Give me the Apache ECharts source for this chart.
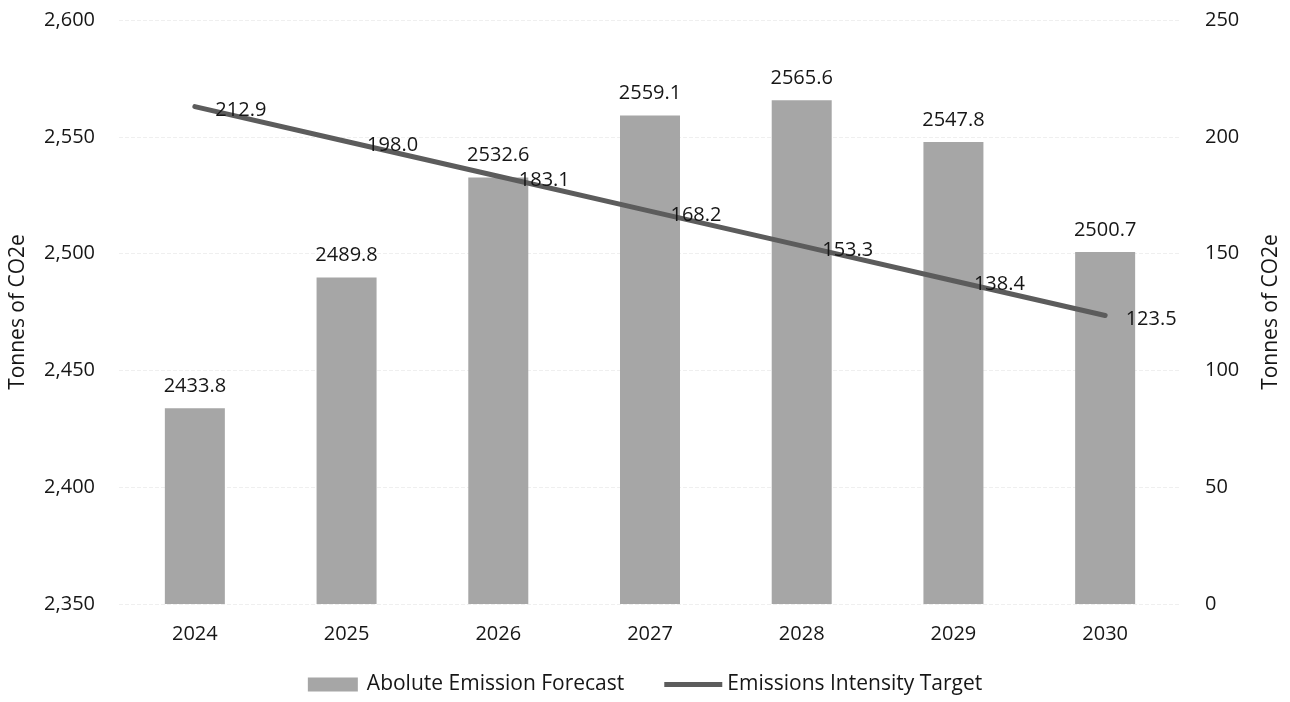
<!DOCTYPE html>
<html>
<head>
<meta charset="utf-8">
<script src="https://cdn.jsdelivr.net/npm/echarts@6/dist/echarts.min.js"></script>
<style>
html,body{margin:0;padding:0;background:#fff;}
#chart{width:1290px;height:702px;}
</style>
</head>
<body>
<div id="chart"></div>
<script>
// data
const years = ['2024', '2025', '2026', '2027', '2028', '2029', '2030'];
const absoluteEmission = [2433.8, 2489.8, 2532.6, 2559.1, 2565.6, 2547.8, 2500.7];
const intensityTarget = [212.9, 198.0, 183.1, 168.2, 153.3, 138.4, 123.5];

const textColor = '#161616';
const barColor = '#a6a6a6';
const lineColor = '#5c5c5c';
const fontName = 'Open Sans';

let myChart = echarts.init(document.getElementById('chart'));
myChart.setOption({
    animation: false,
    textStyle: { fontFamily: fontName, color: textColor },
    grid: { top: 20, bottom: 98, left: 119, right: 109 },
    legend: {
        bottom: 2,
        left: 'center',
        itemWidth: 58,
        itemHeight: 14,
        itemGap: 40,
        symbolKeepAspect: true,
        textStyle: { fontSize: 21, color: textColor, fontFamily: fontName },
        data: [
            { name: 'Abolute Emission Forecast', icon: 'path://M0,0L50,0L50,14L0,14Z' },
            { name: 'Emissions Intensity Target', icon: 'path://M0,0L60,0L60,5L0,5Z' }
        ]
    },
    xAxis: {
        type: 'category',
        data: years,
        axisTick: { show: false },
        axisLine: { show: false },
        axisLabel: { fontSize: 20, color: textColor, margin: 20 }
    },
    yAxis: [
        {
            type: 'value',
            min: 2350,
            max: 2600,
            interval: 50,
            name: 'Tonnes of CO2e',
            nameLocation: 'middle',
            nameGap: 90,
            nameRotate: 90,
            nameTextStyle: { fontSize: 21, color: textColor },
            axisLine: { show: false },
            axisTick: { show: false },
            axisLabel: {
                fontSize: 20,
                color: textColor,
                margin: 24,
                formatter: v => v.toLocaleString('en-US')
            },
            splitLine: { lineStyle: { color: '#efefef', type: 'dashed', width: 1 } }
        },
        {
            type: 'value',
            min: 0,
            max: 250,
            interval: 50,
            name: 'Tonnes of CO2e',
            nameLocation: 'middle',
            nameGap: 80,
            nameRotate: 90,
            nameTextStyle: { fontSize: 21, color: textColor },
            axisLine: { show: false },
            axisTick: { show: false },
            axisLabel: { fontSize: 20, color: textColor, margin: 24 },
            splitLine: { show: false }
        }
    ],
    series: [
        {
            name: 'Abolute Emission Forecast',
            type: 'bar',
            data: absoluteEmission,
            barWidth: 60,
            itemStyle: { color: barColor },
            label: {
                show: true,
                position: 'top',
                distance: 12,
                fontSize: 20,
                color: textColor,
                formatter: p => p.value.toFixed(1)
            }
        },
        {
            name: 'Emissions Intensity Target',
            type: 'line',
            yAxisIndex: 1,
            data: intensityTarget,
            symbol: 'circle',
            symbolSize: 1,
            lineStyle: { color: lineColor, width: 5, cap: 'round' },
            itemStyle: { color: lineColor },
            label: {
                show: true,
                position: 'right',
                distance: 20,
                offset: [0, 4],
                fontSize: 20,
                color: textColor,
                formatter: p => p.value.toFixed(1)
            }
        }
    ]
});
</script>
</body>
</html>
